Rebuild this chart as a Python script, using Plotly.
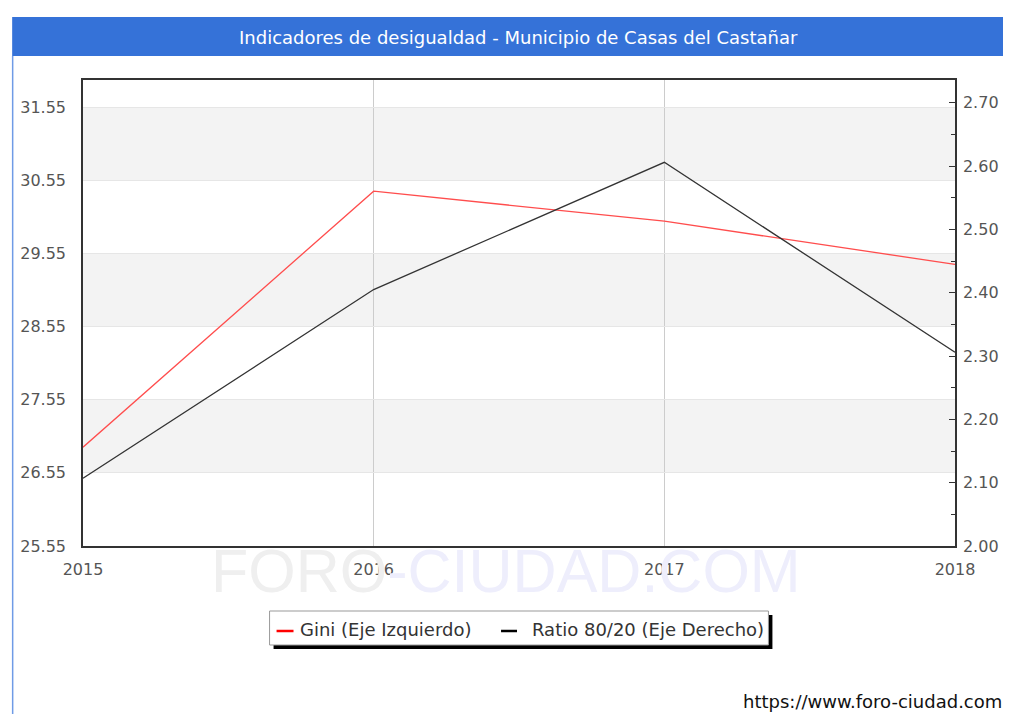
import plotly.graph_objects as go

years = [2015, 2016, 2017, 2018]
gini = [26.90, 30.40, 29.99, 29.40]
ratio = [2.107, 2.405, 2.606, 2.306]
left_ticks = [25.55, 26.55, 27.55, 28.55, 29.55, 30.55, 31.55]
right_ticks = [2.00, 2.10, 2.20, 2.30, 2.40, 2.50, 2.60, 2.70]
title_text = "Indicadores de desigualdad - Municipio de Casas del Castañar"
gini_name = "Gini (Eje Izquierdo)"
ratio_name = "Ratio 80/20 (Eje Derecho)"
gini_color = "#ff4d4d"
ratio_color = "#333333"

# page is offset by the 8px default body margin
OFF = 8
W, H = 1011 - OFF, 714 - OFF
L, R, T, B = 81, 955, 80, 546  # plot area in page pixels

def px(x):
    return (x - L) / (R - L)

def py(y):
    return (B - y) / (B - T)

FONT = "DejaVu Sans"

fig = go.Figure()
fig.add_trace(go.Scatter(x=years, y=gini, name=gini_name, mode="lines",
                         line=dict(color=gini_color, width=1.3), yaxis="y"))
fig.add_trace(go.Scatter(x=years, y=ratio, name=ratio_name, mode="lines",
                         line=dict(color=ratio_color, width=1.3), yaxis="y2"))

shapes = []
for i in range(1, len(left_ticks) - 1, 2):
    shapes.append(dict(type="rect", xref="paper", yref="y", x0=0, x1=1,
                       y0=left_ticks[i], y1=left_ticks[i + 1],
                       fillcolor="#f3f3f3", line=dict(width=0), layer="below"))
# title bar and left border
shapes.append(dict(type="rect", xref="paper", yref="paper", x0=px(10), x1=px(1012),
                   y0=py(56), y1=py(17), fillcolor="#3572d8", line=dict(width=0)))
shapes.append(dict(type="line", xref="paper", yref="paper", x0=px(10.5), x1=px(10.5),
                   y0=py(56), y1=py(715), line=dict(color="#6f9be6", width=1.5)))
# legend box with shadow
shapes.append(dict(type="rect", xref="paper", yref="paper", x0=px(272), x1=px(772),
                   y0=py(649), y1=py(615), fillcolor="#000000", line=dict(width=0)))
shapes.append(dict(type="rect", xref="paper", yref="paper", x0=px(268), x1=px(768),
                   y0=py(645), y1=py(611), fillcolor="#ffffff",
                   line=dict(color="#999999", width=1)))
# legend keys
shapes.append(dict(type="line", xref="paper", yref="paper", x0=px(275), x1=px(292),
                   y0=py(631), y1=py(631), line=dict(color="#ff0000", width=2.5)))
shapes.append(dict(type="line", xref="paper", yref="paper", x0=px(500), x1=px(516),
                   y0=py(631), y1=py(631), line=dict(color="#000000", width=2.5)))

annotations = [
    dict(text=title_text, x=px(517), y=py(37), xref="paper", yref="paper",
         showarrow=False, font=dict(family=FONT, size=18, color="white"),
         xanchor="center", yanchor="middle"),
    dict(text="https://www.foro-ciudad.com", x=px(741), y=py(701), xref="paper", yref="paper",
         showarrow=False, font=dict(family=FONT, size=18, color="#111111"),
         xanchor="left", yanchor="middle"),
    dict(text="<span style='color:#efefef'>FORO</span><span style='color:#eeeefc'>-CIUDAD.COM</span>",
         x=px(505), y=py(571), xref="paper", yref="paper", showarrow=False,
         font=dict(family="Liberation Sans", size=61), xanchor="center", yanchor="middle"),
    dict(text=gini_name, x=px(296), y=py(629), xref="paper", yref="paper", showarrow=False,
         font=dict(family=FONT, size=18, color="#333333"), xanchor="left", yanchor="middle"),
    dict(text=ratio_name, x=px(529), y=py(629), xref="paper", yref="paper", showarrow=False,
         font=dict(family=FONT, size=18, color="#333333"), xanchor="left", yanchor="middle"),
]

fig.update_layout(
    width=W, height=H,
    margin=dict(l=L - OFF, r=1011 - R, t=T - OFF, b=714 - B, pad=0),
    paper_bgcolor="white", plot_bgcolor="white",
    showlegend=False,
    xaxis=dict(range=[2015, 2018], tickvals=years, ticktext=[str(y) for y in years],
               showgrid=True, gridcolor="#cccccc", gridwidth=1,
               showline=True, linecolor="#333333", linewidth=1.5, mirror=True,
               ticks="", zeroline=False, ticklabelstandoff=8,
               tickfont=dict(family=FONT, size=16, color="#555555")),
    yaxis=dict(range=[25.55, 31.92], tickvals=left_ticks,
               ticktext=["%.2f" % v for v in left_ticks],
               showgrid=True, gridcolor="#e6e6e6", gridwidth=1,
               showline=True, linecolor="#333333", linewidth=1.5,
               ticks="", zeroline=False, ticklabelstandoff=12,
               tickfont=dict(family=FONT, size=16, color="#555555")),
    yaxis2=dict(range=[2.0, 2.736], tickvals=right_ticks,
                ticktext=["%.2f" % v for v in right_ticks],
                overlaying="y", side="right", showgrid=False, zeroline=False,
                showline=True, linecolor="#333333", linewidth=1.5,
                ticks="inside", ticklen=6, tickcolor="#333333", ticklabelstandoff=3,
                minor=dict(ticks="inside", ticklen=4, dtick=0.05, tickcolor="#333333"),
                tickfont=dict(family=FONT, size=16, color="#555555")),
    shapes=shapes,
    annotations=annotations,
)

fig.write_html("out.html")
